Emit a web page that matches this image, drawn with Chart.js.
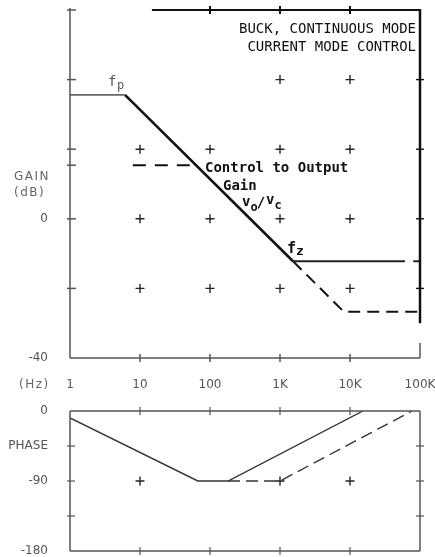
<!DOCTYPE html>
<html><head><meta charset="utf-8">
<script src="https://cdn.jsdelivr.net/npm/chart.js@4.4.1/dist/chart.umd.min.js"></script>
<style>
html,body{margin:0;padding:0;background:#fff;overflow:hidden;width:435px;height:557px}
#g{position:absolute;left:0;top:0}
#p{position:absolute;left:0;top:400px}
</style></head><body>
<canvas id="g" width="435" height="400"></canvas>
<canvas id="p" width="435" height="160"></canvas>
<script>
// ---- tick values / labels
const freqTicks = [1, 10, 100, 1000, 10000, 100000];
const freqLabels = ['1', '10', '100', '1K', '10K', '100K'];
const gainTicks = [-40, -20, 0, 20, 40, 60];
const gainLabels = ['-40', '', '0', '', '', ''];
const phaseTicks = [-180, -135, -90, -45, 0];
const phaseLabels = ['-180', '', '-90', 'PHASE', '0'];

// ---- gain curves [Hz, dB]
const gainLowFreq = [[1, 35.6], [6.1, 35.6]];
const gainSlope = [[6.1, 35.6], [1535, -12.2]];
const gainZeroFlat = [[1535, -12.2], [61000, -12.2]];
const gainZeroTail = [[80000, -12.2], [100000, -12.2]];
const gainDashed = [[1535, -12.2], [8150, -26.7], [100000, -26.7]];
const legendPointer = [[7.9, 15.4], [61, 15.4]];
const gainGridCross = [[1000, 40], [10000, 40], [10, 20], [100, 20], [1000, 20], [10000, 20],
  [10, 0], [100, 0], [1000, 0], [10000, 0], [10, -20], [100, -20], [1000, -20], [10000, -20]];

// ---- phase curves [Hz, deg]
const phaseSolid = [[1, -9], [67, -90], [181, -90], [15300, 0]];
const phaseDashed = [[181, -90], [1000, -90], [77000, 0]];
const phaseGridCross = [[10, -90], [1000, -90], [10000, -90]];

// frame extents
const gainTopBorderFrom = 14.8;
const gainRightThickTo = -30;
const gainRightThinFrom = -35.7;
const gainLeftExtraTick = 15.4;

const pt = a => a.map(([x, y]) => ({x, y}));
const lineDs = (data, color, width, dash) => ({
  data: pt(data), showLine: true, borderColor: color, borderWidth: width,
  borderDash: dash || [], pointRadius: 0, pointHoverRadius: 0, fill: false, tension: 0
});
const crossDs = data => ({
  data: pt(data), showLine: false, pointStyle: 'cross', pointRadius: 4.5, pointHoverRadius: 0,
  pointBorderColor: '#222', pointBorderWidth: 1.4, borderColor: '#222'
});

const tickFont = {family: 'DejaVu Sans', size: 12};
const tickColor = '#555';

function xScale(showLabels, h) {
  return {
    type: 'logarithmic', min: 1, max: 100000,
    afterBuildTicks: s => { s.ticks = freqTicks.map(v => ({value: v})); },
    afterFit: s => { s.height = h; s.paddingLeft = 0; s.paddingRight = 0; },
    grid: {display: false, drawTicks: false}, border: {display: false},
    ticks: {display: showLabels, autoSkip: false, maxRotation: 0, padding: 20,
      font: tickFont, color: tickColor, callback: (v, i) => freqLabels[i]}
  };
}
function yScale(min, max, tv, tl) {
  return {
    type: 'linear', min, max,
    afterBuildTicks: s => { s.ticks = tv.map(v => ({value: v})); },
    afterFit: s => { s.width = 70; s.paddingTop = 0; s.paddingBottom = 0; },
    grid: {display: false, drawTicks: false}, border: {display: false},
    ticks: {autoSkip: false, padding: 22, font: tickFont, color: tickColor,
      callback: (v, i) => tl[i]}
  };
}

function seg(ctx, x1, y1, x2, y2) { ctx.beginPath(); ctx.moveTo(x1, y1); ctx.lineTo(x2, y2); ctx.stroke(); }

const gainFrame = {
  id: 'gainFrame',
  afterDraw(chart) {
    const ctx = chart.ctx, xs = chart.scales.x, ys = chart.scales.y;
    const L = xs.getPixelForValue(1), R = xs.getPixelForValue(100000);
    const T = ys.getPixelForValue(60), B = ys.getPixelForValue(-40);
    ctx.save();
    ctx.lineCap = 'butt';
    // left & bottom axes
    ctx.strokeStyle = '#555'; ctx.lineWidth = 1.5;
    seg(ctx, L, T - 2, L, B); seg(ctx, L, B, R, B);
    for (const v of freqTicks.slice(1, -1)) { const x = xs.getPixelForValue(v); seg(ctx, x, B - 4, x, B + 4); }
    for (const v of gainTicks.slice(1).concat([gainLeftExtraTick])) { const y = ys.getPixelForValue(v); seg(ctx, L - 3, y, L + 6, y); }
    // right thin tail
    seg(ctx, R, ys.getPixelForValue(gainRightThinFrom), R, B);
    // top partial border
    ctx.strokeStyle = '#111'; ctx.lineWidth = 2;
    seg(ctx, xs.getPixelForValue(gainTopBorderFrom), T, R + 1, T);
    for (const v of [100, 1000, 10000]) { const x = xs.getPixelForValue(v); seg(ctx, x, T - 4, x, T + 4); }
    // right thick border
    ctx.lineWidth = 2.5;
    seg(ctx, R, T - 1, R, ys.getPixelForValue(gainRightThickTo));
    ctx.lineWidth = 1.4;
    for (const v of [40, 20, 0, -20]) { const y = ys.getPixelForValue(v); seg(ctx, R - 4, y, R + 4, y); }

    // texts
    ctx.fillStyle = '#111';
    ctx.textBaseline = 'middle';
    ctx.font = '14px "DejaVu Sans Mono"';
    ctx.textAlign = 'right';
    ctx.fillText('BUCK, CONTINUOUS MODE', 416, 29);
    ctx.fillText('CURRENT MODE CONTROL', 416, 47);
    ctx.textAlign = 'left';
    ctx.font = 'bold 14px "DejaVu Sans Mono"';
    ctx.fillText('Control to Output', 205, 168);
    ctx.fillText('Gain', 223, 186);
    // vo/vc
    let x = 242;
    ctx.fillText('v', x, 202); x += ctx.measureText('v').width;
    ctx.font = 'bold 12px "DejaVu Sans Mono"';
    ctx.fillText('o', x, 208); x += ctx.measureText('o').width;
    ctx.font = 'bold 14px "DejaVu Sans Mono"';
    ctx.fillText('/', x - 1, 203); x += ctx.measureText('/').width;
    ctx.fillText('v', x, 200); x += ctx.measureText('v').width;
    ctx.font = 'bold 12px "DejaVu Sans Mono"';
    ctx.fillText('c', x, 206);
    // fz
    ctx.font = 'bold 15px "DejaVu Sans Mono"';
    ctx.fillText('f', 287, 249);
    ctx.font = 'bold 13px "DejaVu Sans Mono"';
    ctx.fillText('z', 296, 252);
    // fp
    ctx.fillStyle = '#555';
    ctx.font = '14px "DejaVu Sans Mono"';
    ctx.fillText('f', 108, 82);
    ctx.font = '12px "DejaVu Sans Mono"';
    ctx.fillText('p', 117, 86);
    // axis captions
    ctx.fillStyle = '#666';
    ctx.font = '12px "DejaVu Sans"';
    ctx.letterSpacing = '1.5px';
    ctx.fillText('GAIN', 14, 177);
    ctx.fillText('(dB)', 14, 193);
    ctx.fillText('(Hz)', 19, 385);
    ctx.restore();
  }
};

const phaseFrame = {
  id: 'phaseFrame',
  afterDraw(chart) {
    const ctx = chart.ctx, xs = chart.scales.x, ys = chart.scales.y;
    const L = xs.getPixelForValue(1), R = xs.getPixelForValue(100000);
    const T = ys.getPixelForValue(0), B = ys.getPixelForValue(-180);
    ctx.save();
    ctx.strokeStyle = '#555'; ctx.lineWidth = 1.5;
    seg(ctx, L, T, R, T); seg(ctx, L, B, R, B); seg(ctx, L, T, L, B); seg(ctx, R, T, R, B);
    ctx.lineWidth = 1.2;
    for (const v of freqTicks.slice(1, -1)) {
      const x = xs.getPixelForValue(v);
      seg(ctx, x, T - 4, x, T + 4); seg(ctx, x, B - 4, x, B + 4);
    }
    for (const v of phaseTicks.slice(1, -1)) {
      const y = ys.getPixelForValue(v);
      seg(ctx, L - 3, y, L + 5, y); seg(ctx, R - 4, y, R + 4, y);
    }
    ctx.restore();
  }
};

Chart.defaults.animation = false;
Chart.defaults.devicePixelRatio = 1;

new Chart(document.getElementById('g'), {
  type: 'scatter',
  data: {datasets: [
    lineDs(gainLowFreq, '#666', 1.6),
    lineDs(gainSlope, '#111', 2.6),
    lineDs(gainZeroFlat, '#222', 2),
    lineDs(gainZeroTail, '#222', 2),
    lineDs(gainDashed, '#111', 2, [12, 7]),
    lineDs(legendPointer, '#111', 2, [13, 9]),
    crossDs(gainGridCross)
  ]},
  options: {
    responsive: false, animation: false, events: [],
    layout: {padding: {top: 10, right: 15, left: 0, bottom: 0}},
    plugins: {legend: {display: false}, tooltip: {enabled: false}},
    scales: {x: xScale(true, 42), y: yScale(-40, 60, gainTicks, gainLabels)}
  },
  plugins: [gainFrame]
});

new Chart(document.getElementById('p'), {
  type: 'scatter',
  data: {datasets: [
    lineDs(phaseSolid, '#333', 1.4),
    lineDs(phaseDashed, '#333', 1.4, [12, 6]),
    crossDs(phaseGridCross)
  ]},
  options: {
    responsive: false, animation: false, events: [],
    layout: {padding: {top: 11, right: 15, left: 0, bottom: 0}},
    plugins: {legend: {display: false}, tooltip: {enabled: false}},
    scales: {x: xScale(false, 9), y: yScale(-180, 0, phaseTicks, phaseLabels)}
  },
  plugins: [phaseFrame]
});
</script>
</body></html>
